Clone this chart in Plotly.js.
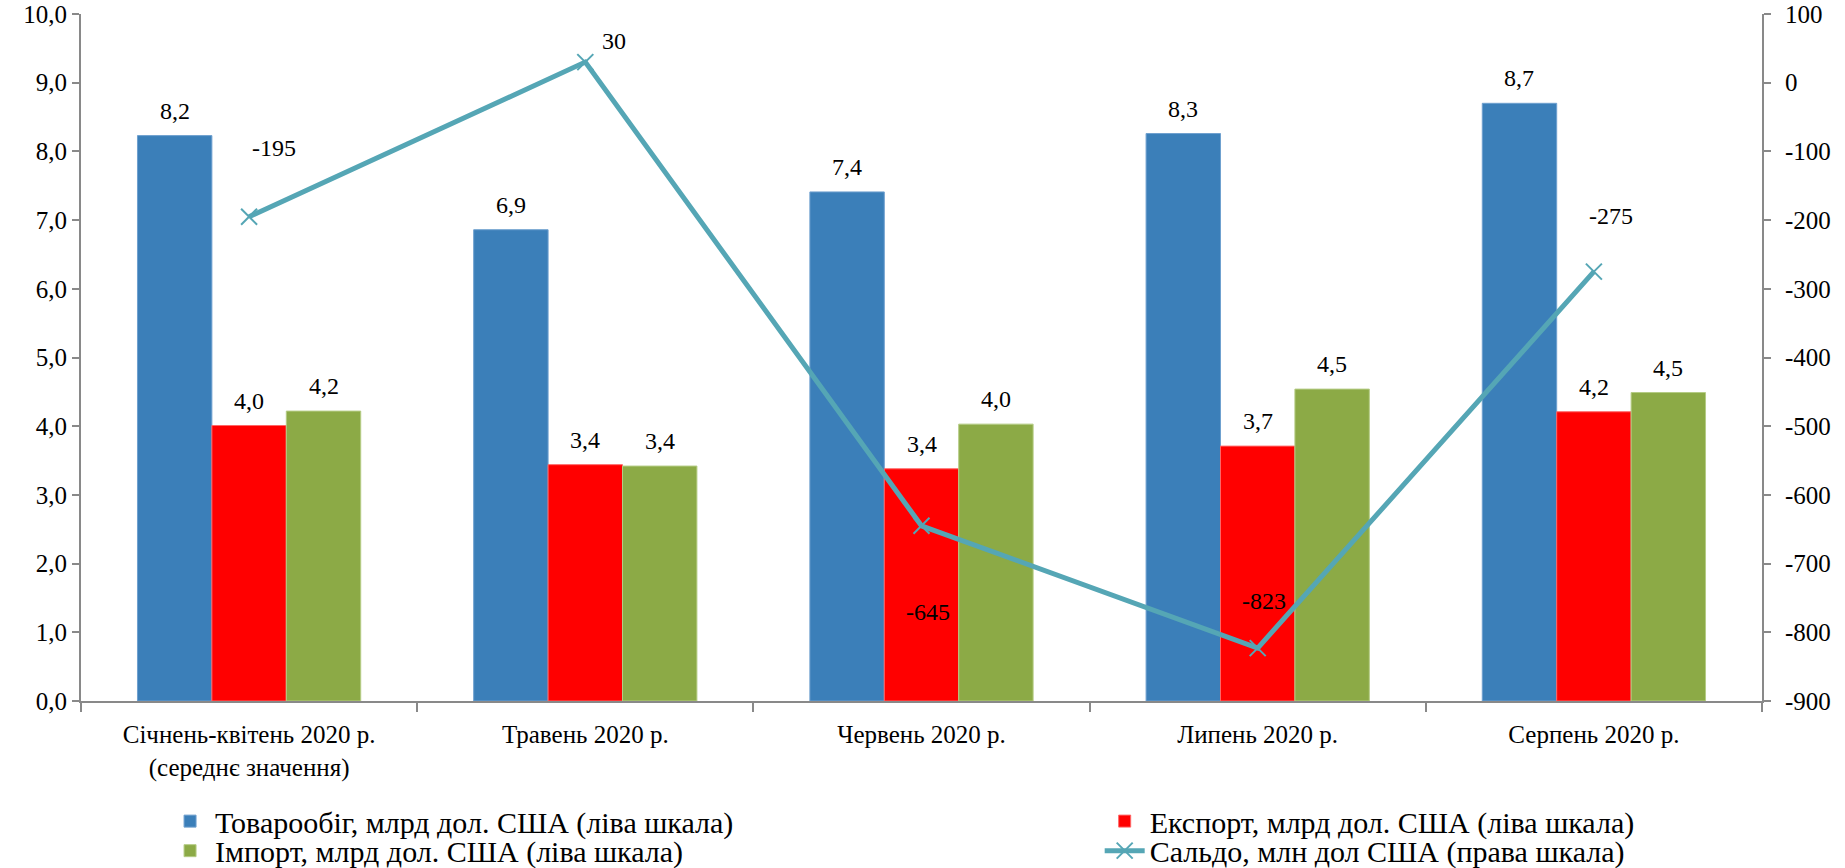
<!DOCTYPE html>
<html>
<head>
<meta charset="utf-8">
<script src="https://cdn.plot.ly/plotly-3.0.1.min.js"></script>
<style>
  html, body { margin: 0; padding: 0; background: #ffffff; }
  #chart { width: 1845px; height: 868px; }
</style>
</head>
<body>
<div id="chart"></div>
<script>
// ---- data ----
const categories = [
  "Січнень-квітень 2020 р.<br>(середнє значення)",
  "Травень 2020 р.",
  "Червень 2020 р.",
  "Липень 2020 р.",
  "Серпень 2020 р."
];
const turnover = [8.23, 6.86, 7.41, 8.26, 8.70];
const exportVals = [4.01, 3.44, 3.38, 3.71, 4.21];
const importVals = [4.22, 3.42, 4.03, 4.54, 4.49];
const saldo = [-195, 30, -645, -823, -275];
const rightTickVals = [100, 0, -100, -200, -300, -400, -500, -600, -700, -800, -900];
const rightTickText = ["100", "0", "-100", "-200", "-300", "-400", "-500", "-600", "-700", "-800", "-900"];
const seriesNames = [
  "Товарообіг, млрд дол. США (ліва шкала)",
  "Експорт, млрд дол. США (ліва шкала)",
  "Імпорт, млрд дол. США (ліва шкала)",
  "Сальдо, млн дол США (права шкала)"
];

// ---- styling ----
const FONT = 'Liberation Serif, Times New Roman, serif';
const colors = ["#3B7FB9", "#FF0000", "#8CAA46", "#55A6B5"];
const axisColor = "#898989";
const bargap = 0.336;
const barOffset = (1 - bargap) / 3;
const saldoXShift = [25, 29, 6, 6, 17];
const saldoYShift = [69, 21, -86, 47, 56];

const xIdx = categories.map((c, i) => i);

const traces = [
  { type: "bar", name: seriesNames[0], x: categories, y: turnover,
    marker: { color: colors[0], line: { color: "#6fa0cf", width: 1 } },
    legend: "legend", hoverinfo: "y" },
  { type: "bar", name: seriesNames[1], x: categories, y: exportVals,
    marker: { color: colors[1], line: { color: "#ff6666", width: 1 } },
    legend: "legend2", hoverinfo: "y" },
  { type: "bar", name: seriesNames[2], x: categories, y: importVals,
    marker: { color: colors[2], line: { color: "#b5cc85", width: 1 } },
    legend: "legend3", hoverinfo: "y" },
  { type: "scatter", mode: "lines+markers", name: seriesNames[3], x: categories, y: saldo,
    yaxis: "y2",
    line: { color: colors[3], width: 5 },
    marker: { symbol: "x-thin", size: 16, line: { color: colors[3], width: 2 }, color: colors[3] },
    legend: "legend4", hoverinfo: "y" }
];

const fmt1 = v => v.toFixed(1).replace(".", ",");
const annotations = [];
const barSeries = [turnover, exportVals, importVals];
barSeries.forEach((arr, s) => {
  arr.forEach((v, i) => {
    annotations.push({
      x: xIdx[i] + (s - 1) * barOffset, y: v, xref: "x", yref: "y",
      text: fmt1(v), showarrow: false, yanchor: "bottom", xanchor: "center",
      yshift: 10, font: { family: FONT, size: 24, color: "#000" }
    });
  });
});
saldo.forEach((v, i) => {
  annotations.push({
    x: xIdx[i], y: v, xref: "x", yref: "y2",
    text: String(v), showarrow: false, xanchor: "center", yanchor: "middle",
    xshift: saldoXShift[i], yshift: saldoYShift[i],
    font: { family: FONT, size: 24, color: "#000" }
  });
});

function legendAt(x, y) {
  return {
    orientation: "v", x: x, xanchor: "left", y: y, yanchor: "top",
    font: { family: FONT, size: 30, color: "#000" }, itemwidth: 40,
    bgcolor: "rgba(0,0,0,0)", tracegroupgap: 0
  };
}

const layout = {
  width: 1845, height: 868,
  margin: { l: 81, r: 83, t: 14, b: 167, pad: 0, autoexpand: false },
  paper_bgcolor: "#ffffff", plot_bgcolor: "#ffffff",
  font: { family: FONT, size: 24, color: "#000" },
  separators: ", ",
  barmode: "group", bargap: bargap, bargroupgap: 0,
  showlegend: true,
  xaxis: {
    type: "category", tickson: "boundaries", ticks: "outside", ticklen: 9, tickwidth: 2,
    tickcolor: axisColor, showline: true, linecolor: axisColor, linewidth: 2,
    showgrid: false, zeroline: false, ticklabelstandoff: 10,
    tickfont: { family: FONT, size: 25, color: "#000" }
  },
  yaxis: {
    range: [0, 10], dtick: 1, tick0: 0, tickformat: ".1f",
    ticks: "outside", ticklen: 7, tickwidth: 2, tickcolor: axisColor,
    showline: true, linecolor: axisColor, linewidth: 2, showgrid: false, zeroline: false,
    tickfont: { family: FONT, size: 25, color: "#000" }
  },
  yaxis2: {
    overlaying: "y", side: "right", range: [-900, 100],
    tickvals: rightTickVals, ticktext: rightTickText,
    ticks: "outside", ticklen: 7, tickwidth: 2, tickcolor: axisColor,
    showline: true, linecolor: axisColor, linewidth: 2, showgrid: false, zeroline: false,
    ticklabelstandoff: 9,
    tickfont: { family: FONT, size: 25, color: "#000" }
  },
  legend: legendAt(0.050, -0.137),
  legend2: legendAt(0.606, -0.137),
  legend3: legendAt(0.050, -0.180),
  legend4: legendAt(0.606, -0.180),
  annotations: annotations
};

Plotly.newPlot("chart", traces, layout, { displayModeBar: false, staticPlot: true });
</script>
</body>
</html>
